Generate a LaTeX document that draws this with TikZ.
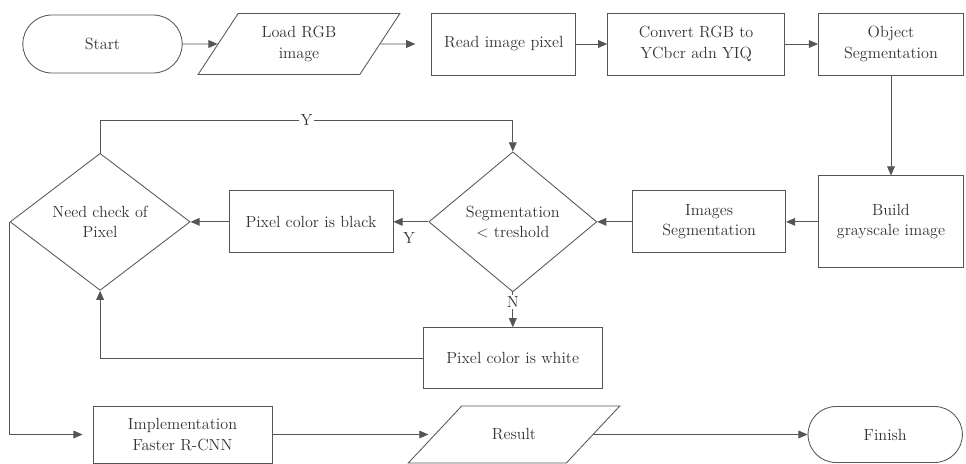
\documentclass[tikz,border=0pt]{standalone}
\usepackage{tikz}
\usetikzlibrary{shapes,arrows.meta,positioning,calc}
\usepackage{xcolor}
\definecolor{fcInk}{HTML}{555555}
\definecolor{fcText}{HTML}{333333}
\tikzset{
  blk/.style={draw=fcInk, line width=0.6pt, rectangle, minimum height=1.55cm, inner sep=2pt, align=center, text=fcText, font=\fontsize{11.5}{14.5}\selectfont},
  term/.style={blk, rounded rectangle, minimum width=4.125cm, minimum height=1.45cm},
  io/.style={blk, trapezium, trapezium stretches=true, trapezium left angle=57, trapezium right angle=123},
  dec/.style={blk, diamond, aspect=1.2, inner sep=0pt},
  arr/.style={-{Triangle[length=6.5pt,width=5.5pt]}, line width=0.6pt, draw=fcInk},
  lbl/.style={font=\fontsize{11.5}{14}\selectfont, text=fcText, inner sep=1pt},
}
\begin{document}
\begin{tikzpicture}[node distance=0.8cm]
  \useasboundingbox (0,0) rectangle (24.15,-11.6);
  % top row
  \node[term] (start) at (2.5625,-1.1) {Start};
  \node[io, minimum width=5.075cm, minimum height=1.525cm, right=0.875cm of start] (load) {Load RGB\\image};
  \node[blk, minimum width=3.6cm, right=1.275cm of load] (read) {Read image pixel};
  \node[blk, minimum width=4.425cm, right=0.775cm of read] (conv) {Convert RGB to\\YCbcr adn YIQ};
  \node[blk, minimum width=3.625cm, right=0.825cm of conv] (obj) {Object\\Segmentation};
  % middle row, right to left
  \node[blk, minimum width=3.625cm, minimum height=2.3cm, below=2.5cm of obj] (gray) {Build\\grayscale image};
  \node[blk, minimum width=3.825cm, left=0.8cm of gray] (imgseg) {Images\\Segmentation};
  \node[dec, minimum width=4.2cm, minimum height=3.5cm, left=0.875cm of imgseg] (thr) {Segmentation\\\textless{} treshold};
  \node[blk, minimum width=4.1cm, left=0.875cm of thr] (black) {Pixel color is black};
  \node[dec, minimum width=4.5cm, minimum height=3.425cm, left=0.95cm of black] (chk) {Need check of\\Pixel};
  \node[blk, minimum width=4.475cm, minimum height=1.525cm, below=0.875cm of thr] (white) {Pixel color is white};
  % bottom row
  \node[blk, minimum width=4.475cm, minimum height=1.425cm] (frcnn) at (4.5625,-10.8625) {Implementation\\Faster R-CNN};
  \node[io, trapezium left angle=34, trapezium right angle=146, minimum width=5.3cm, minimum height=1.425cm, right=4.05cm of frcnn] (res) {Result};
  \node[term, minimum width=4.0cm, minimum height=1.4cm, right=5.35cm of res] (fin) {Finish};
  % connectors
  \draw[arr] (start) -- (load);
  \draw[arr, shorten >=0.4cm] (load) -- (read);
  \draw[arr] (read) -- (conv);
  \draw[arr] (conv) -- (obj);
  \draw[arr] (obj) -- (gray);
  \draw[arr] (gray) -- (imgseg);
  \draw[arr] (imgseg) -- (thr);
  \draw[arr] (thr) -- node[lbl, below, yshift=-0.22cm, pos=0.55] {Y} (black);
  \draw[arr] (black) -- (chk);
  \draw[arr] (chk.north) -- ++(0,0.825) -| node[lbl, fill=white, pos=0.25] {Y} (thr.north);
  \draw[arr] (thr) -- node[lbl, fill=white, pos=0.27] {N} (white);
  \draw[arr] (white) -| (chk);
  \draw[arr, shorten >=0.25cm] (chk.west) |- (frcnn.west);
  \draw[arr, shorten >=0.15cm] (frcnn) -- (res);
  \draw[arr] (res) -- (fin);
\end{tikzpicture}
\end{document}
